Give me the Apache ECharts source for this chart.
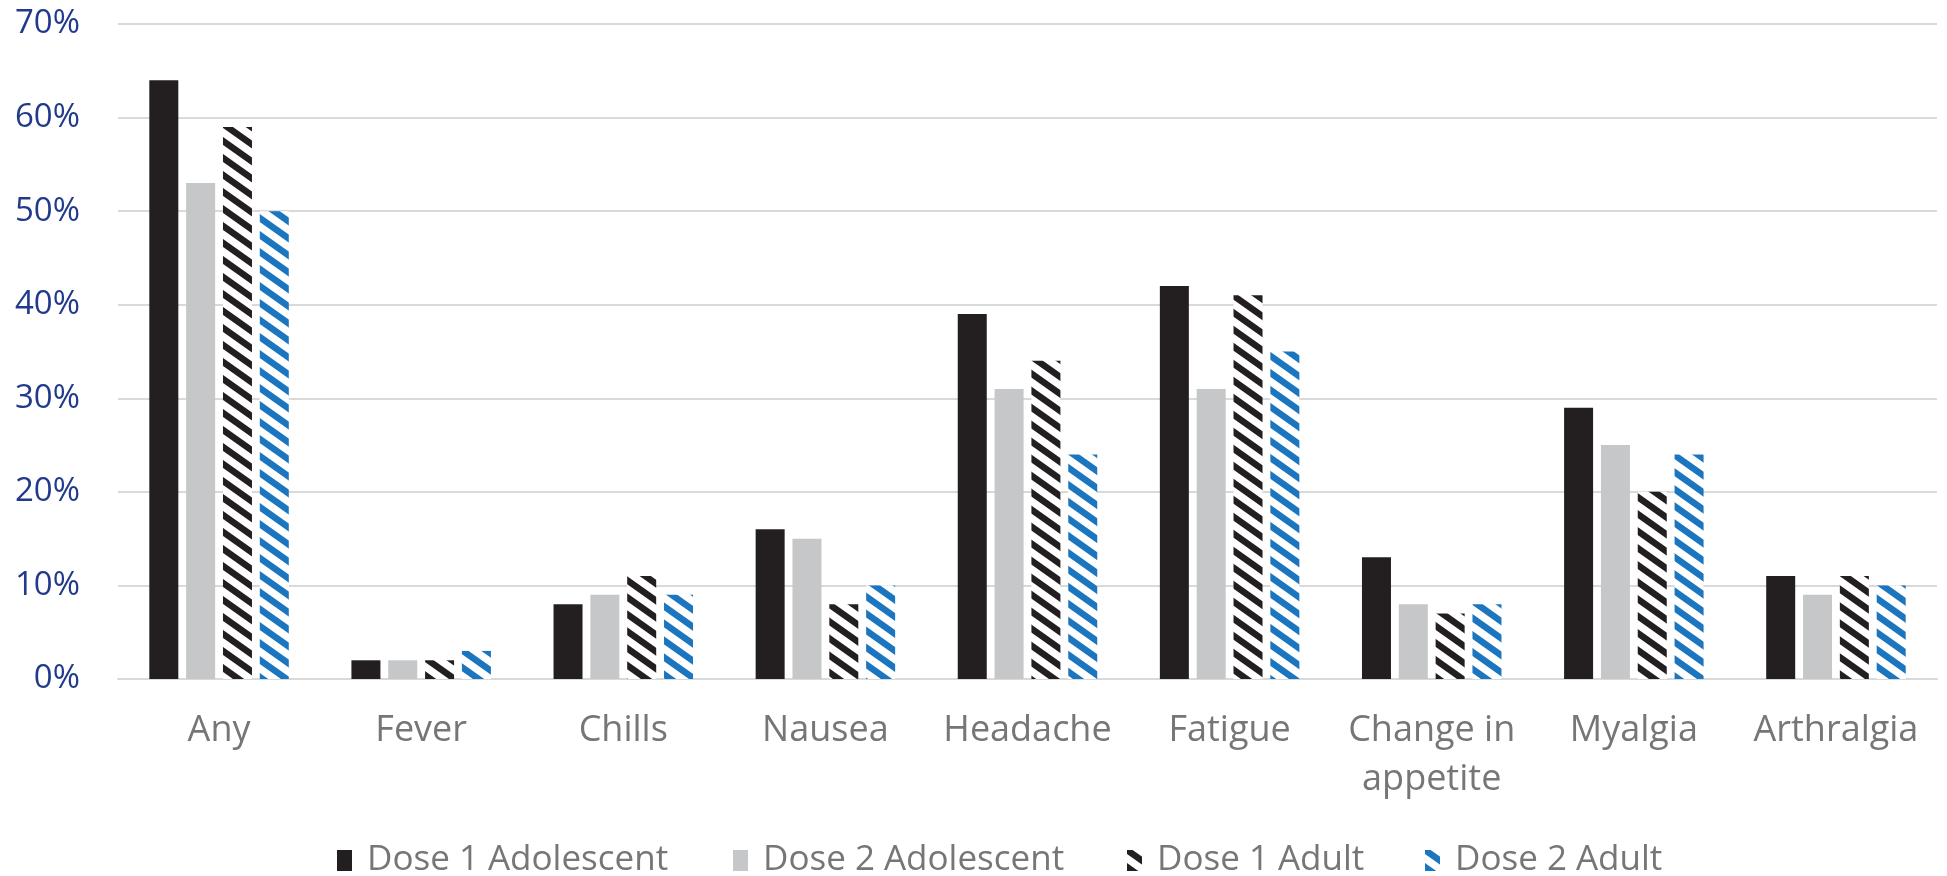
<!DOCTYPE html>
<html>
<head>
<meta charset="utf-8">
<title>Systemic reactions by dose and age group</title>
<script src="https://cdn.jsdelivr.net/npm/echarts@6/dist/echarts.min.js"></script>
<style>
  html, body { margin: 0; padding: 0; background: #ffffff; }
  #chart { width: 1947px; height: 876px; }
</style>
</head>
<body>
<div id="chart"></div>
<script>
// Reaction categories along the x axis
const categories = ['Any', 'Fever', 'Chills', 'Nausea', 'Headache', 'Fatigue', 'Change in\nappetite', 'Myalgia', 'Arthralgia'];

// Share of participants reporting each reaction (%)
const dose1Adolescent = [64, 2, 8, 16, 39, 42, 13, 29, 11];
const dose2Adolescent = [53, 2, 9, 15, 31, 31, 8, 25, 9];
const dose1Adult      = [59, 2, 11, 8, 34, 41, 7, 20, 11];
const dose2Adult      = [50, 3, 9, 10, 24, 35, 8, 24, 10];

const seriesNames = ['Dose 1 Adolescent', 'Dose 2 Adolescent', 'Dose 1 Adult', 'Dose 2 Adult'];

// Y axis ticks (%)
const yTicks = [0, 10, 20, 30, 40, 50, 60, 70];

const FONT = '"Open Sans", "Noto Sans", sans-serif';

// Downward diagonal stripes on a white tile, used for the adult series
function stripes(color) {
  const W = 24, H = 17;
  const c = document.createElement('canvas');
  c.width = W; c.height = H;
  const ctx = c.getContext('2d');
  ctx.fillStyle = '#ffffff';
  ctx.fillRect(0, 0, W, H);
  ctx.strokeStyle = color;
  ctx.lineWidth = 6.5;
  for (let k = -1; k <= 1; k++) {
    ctx.beginPath();
    ctx.moveTo(-2, -2 * H / W + k * H);
    ctx.lineTo(W + 2, H + 2 * H / W + k * H);
    ctx.stroke();
  }
  return { image: c, repeat: 'repeat' };
}

const fills = ['#231f20', '#c6c7c9', stripes('#231f20'), stripes('#1b76bf')];
const values = [dose1Adolescent, dose2Adolescent, dose1Adult, dose2Adult];
const legendLeft = [337, 733, 1127, 1425];

const chart = echarts.init(document.getElementById('chart'), null, { renderer: 'canvas' });

chart.setOption({
  animation: false,
  backgroundColor: '#ffffff',
  grid: { left: 118, right: 10, top: 24, bottom: 197, containLabel: false },
  legend: seriesNames.map((name, i) => ({
    data: [name],
    left: legendLeft[i],
    top: 843,
    itemWidth: 15,
    itemHeight: 21,
    icon: 'rect',
    padding: 0,
    textStyle: { fontFamily: FONT, fontSize: 35, color: '#767676', padding: [0, 0, 0, 10] }
  })),
  xAxis: {
    type: 'category',
    data: categories,
    axisLine: { show: true, lineStyle: { color: '#d9d9d9', width: 2 } },
    axisTick: { show: false },
    axisLabel: {
      interval: 0,
      margin: 27,
      fontFamily: FONT,
      fontSize: 36,
      lineHeight: 49,
      color: '#767676'
    }
  },
  yAxis: {
    type: 'value',
    min: yTicks[0],
    max: yTicks[yTicks.length - 1],
    interval: 10,
    axisLine: { show: false },
    axisTick: { show: false },
    splitLine: { lineStyle: { color: '#d9d9d9', width: 2 } },
    axisLabel: {
      margin: 38,
      fontFamily: FONT,
      fontSize: 33,
      color: '#213a8c',
      formatter: v => v + '%'
    }
  },
  series: seriesNames.map((name, i) => ({
    name,
    type: 'bar',
    data: values[i],
    barWidth: 29,
    barGap: '27%',
    itemStyle: { color: fills[i] }
  }))
});
</script>
</body>
</html>
